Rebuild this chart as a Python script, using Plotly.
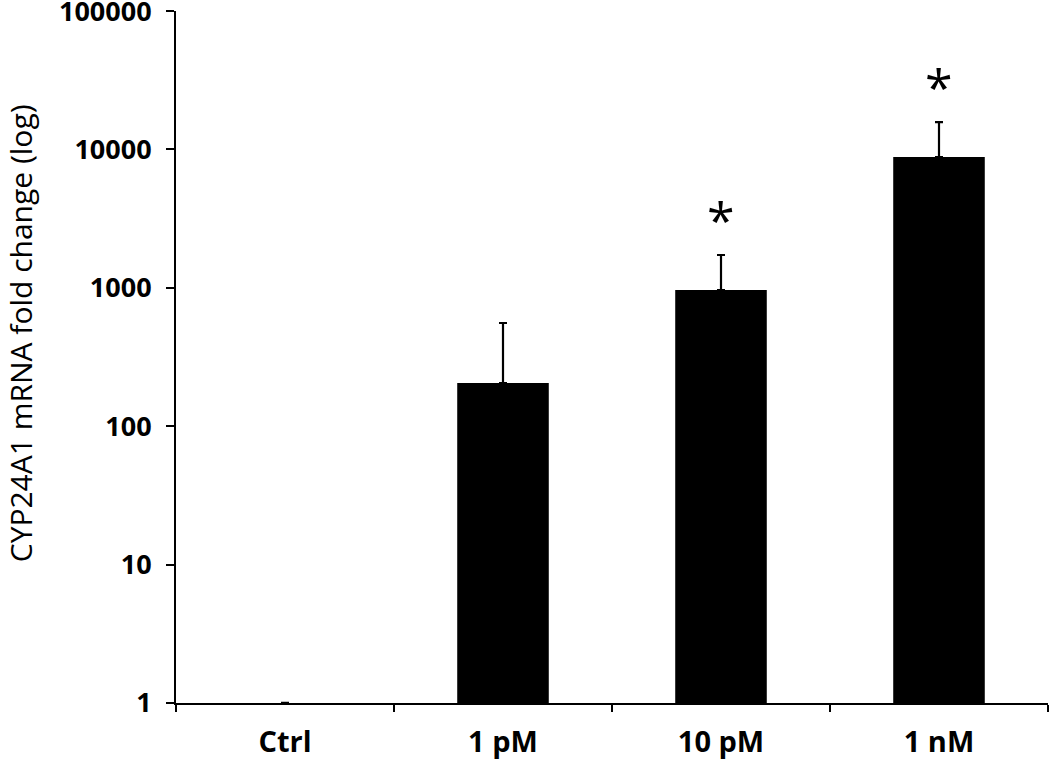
import plotly.graph_objects as go
import math

categories = ["Ctrl", "1 pM", "10 pM", "1 nM"]
fold_change = [1, 205, 964, 8810]
error_plus = [0, 352, 762, 6970]
significant = [False, False, True, True]
y_tick_vals = [1, 10, 100, 1000, 10000, 100000]
y_tick_text = ["1", "10", "100", "1000", "10000", "100000"]
y_title = "CYP24A1 mRNA fold change (log)"

FONT = "Open Sans"

fig = go.Figure()
fig.add_trace(go.Bar(
    x=categories,
    y=fold_change,
    marker=dict(color="black", line=dict(width=0)),
    width=0.42,
    error_y=dict(type="data", array=error_plus, symmetric=False,
                 arrayminus=[0] * len(categories),
                 color="black", thickness=2.2, width=4),
    showlegend=False,
))

for cat, v, e, s in zip(categories, fold_change, error_plus, significant):
    if s:
        fig.add_annotation(
            x=cat, y=math.log10(v + e), yshift=35,
            text="*", showarrow=False,
            font=dict(family=FONT, size=50, color="black"),
        )

fig.add_annotation(
    xref="paper", yref="paper", x=-0.178, y=0.534,
    xanchor="center", yanchor="middle",
    text=y_title, textangle=-90, showarrow=False,
    font=dict(family=FONT, size=30, color="black"),
)

fig.update_layout(
    width=1050, height=763,
    margin=dict(l=176, r=2, t=11, b=60),
    paper_bgcolor="white", plot_bgcolor="white",
    font=dict(family=FONT, color="black"),
)
fig.update_yaxes(
    type="log", range=[-0.0005, 5.0005],
    tickvals=y_tick_vals, ticktext=y_tick_text,
    ticks="outside", ticklen=8, tickwidth=2, tickcolor="black",
    showline=True, linecolor="black", linewidth=2,
    showgrid=False, zeroline=False, automargin=False,
    ticklabelstandoff=9, ticklabeloverflow="allow",
    tickfont=dict(family=FONT, size=27, color="black", weight="bold"),
)
fig.update_xaxes(
    ticks="outside", ticklen=7, tickwidth=2, tickcolor="black",
    tickson="boundaries",
    showline=True, linecolor="black", linewidth=2,
    showgrid=False, automargin=False,
    ticklabelstandoff=12, ticklabeloverflow="allow",
    tickfont=dict(family=FONT, size=29, color="black", weight="bold"),
)

fig.write_html(
    "out.html",
    config={"displayModeBar": False},
    post_script="document.body.style.margin='0';",
)
